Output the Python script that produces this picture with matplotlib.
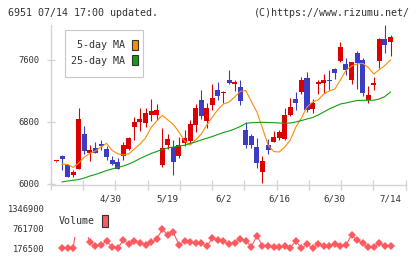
import numpy as np
import matplotlib
matplotlib.use("Agg")
import matplotlib.pyplot as plt
from matplotlib.patches import Patch, Rectangle

plt.rcParams['font.family'] = ['DejaVu Sans Mono']

# ---- data ----
open_ = [6295, 6357, 6245, 6110, 6197, 6645, 6400, 6465, 6516, 6452,
         6310, 6284, 6355, 6452, 6739, 6800, 6791, 6894, 6894, 6245,
         6503, 6477, 6361, 6529, 6555, 6761, 7084, 6813, 7019, 7213,
         7174, 7342, 7290, 7252, 6697, 6619, 6477, 6155, 6503, 6542,
         6594, 6581, 6890, 7097, 7187, 7368, 6968, 7290, 7303, 7342,
         7484, 7587, 7548, 7342, 7690, 7600, 7084, 7277, 7587, 7871,
         7832]
high = [6300, 6374, 6250, 6181, 6985, 6748, 6503, 6542, 6568, 6484,
        6361, 6329, 6548, 6606, 6868, 6981, 6984, 7097, 7028, 6723,
        6645, 6574, 6606, 6697, 6826, 7032, 7213, 7045, 7290, 7316,
        7200, 7471, 7348, 7342, 6800, 6645, 6594, 6361, 6581, 6684,
        6697, 6981, 7110, 7187, 7381, 7445, 7097, 7342, 7419, 7471,
        7497, 7832, 7626, 7574, 7716, 7626, 7264, 7381, 7884, 8052,
        7923]
low = [6290, 6181, 6090, 6090, 6190, 6387, 6297, 6394, 6439, 6310,
       6245, 6194, 6310, 6439, 6568, 6684, 6739, 6817, 6826, 6213,
       6452, 6116, 6335, 6490, 6516, 6671, 6839, 6723, 6955, 7084,
       7045, 7290, 7200, 7019, 6465, 6465, 6206, 6013, 6387, 6542,
       6568, 6568, 6871, 6961, 7161, 6929, 6916, 7161, 7174, 7213,
       7355, 7574, 7406, 7290, 7226, 7135, 7045, 7213, 7497, 7690,
       7652]
close = [6297, 6326, 6094, 6161, 6839, 6426, 6439, 6400, 6490, 6348,
         6258, 6194, 6503, 6594, 6804, 6839, 6920, 6946, 6955, 6465,
         6581, 6284, 6503, 6594, 6774, 6981, 6877, 6981, 7110, 7135,
         7187, 7303, 7316, 7077, 6503, 6503, 6271, 6297, 6439, 6606,
         6671, 6890, 6994, 7045, 7342, 6955, 7045, 7316, 7342, 7335,
         7432, 7768, 7471, 7574, 7561, 7174, 7148, 7303, 7871, 7794,
         7897]
ma5 = [np.nan, 6254, 6254, 6213, 6271, 6348, 6394, 6426, 6477, 6525,
       6432, 6390, 6374, 6390, 6452, 6516, 6594, 6729, 6813, 6886,
       6826, 6768, 6671, 6555, 6503, 6568, 6645, 6761, 6865, 6961,
       7032, 7058, 7123, 7194, 7206, 7065, 6929, 6723, 6503, 6419,
       6413, 6477, 6568, 6735, 6852, 6994, 7058, 7084, 7161, 7200,
       7226, 7342, 7465, 7523, 7548, 7557, 7503, 7419, 7477, 7529,
       7600]
ma25 = [np.nan, 6026, 6039, 6048, 6058, 6077, 6103, 6123, 6148, 6174,
        6194, 6213, 6232, 6258, 6290, 6329, 6361, 6394, 6419, 6445,
        6465, 6477, 6490, 6499, 6523, 6542, 6568, 6590, 6613, 6639,
        6665, 6684, 6710, 6742, 6781, 6791, 6794, 6796, 6794, 6791,
        6787, 6783, 6787, 6800, 6819, 6839, 6858, 6890, 6929, 6968,
        7000, 7032, 7045, 7062, 7077, 7080, 7080, 7081, 7097, 7129,
        7187]
volume = [np.nan, 180000, 176500, 178000, 1346900, 840000, 352000, 235000, 273000, 396000,
          200000, 180000, 413500, 311000, 381000, 331600, 273000, 352000, 440000, 735000,
          560000, 639000, 273000, 384000, 352000, 337000, 323000, 244000, 469000, 431000,
          390000, 308000, 340000, 449000, 390000, 223000, 545000, 244000, 253000, 223000,
          206000, 244000, 194000, 390000, 176500, 294000, 180000, 294000, 244000, 244000,
          294000, 253000, 273000, 566000, 419000, 323000, 206000, 223000, 323000, 253000,
          253000]
date_labels = ["4/30", "5/19", "6/2", "6/16", "6/30", "7/14"]
date_pos = [9.7, 20, 30, 40, 50, 60]
price_ticks = [6000, 6800, 7600]
vol_ticks = [176500, 761700, 1346900]

# ---- style ----
RED = "#dd0000"
BLUE = "#3c3cc4"
ORANGE = "#ff8c00"
GREEN = "#10a010"
VOLC = "#ff5a60"
GRAY = "#d4d4d4"
TXT = "#333333"
FS = 7.2

W, H = 420, 259
fig = plt.figure(figsize=(W / 100, H / 100), dpi=100)


def fxy(x, y):
    """pixel point (top-left origin) -> figure fraction"""
    return (x / W, 1 - y / H)


x0, x1 = 50.7, 405.7
ax = fig.add_axes([x0 / W, 1 - 184.5 / H, (x1 - x0) / W, (184.5 - 25) / H])
n = len(close)
xs = np.arange(n)
ax.set_xlim(-1.04, 62.73)
ax.set_ylim(5993.5, 8051.6)

o = np.array(open_, float); c = np.array(close, float)
hi = np.array(high, float); lo = np.array(low, float)
up = c >= o
cols = np.where(up, RED, BLUE)
bottoms = np.minimum(o, c)
heights = np.maximum(np.abs(c - o), 13)
ax.vlines(xs, lo, hi, colors=cols, linewidth=0.8, zorder=2)
ax.bar(xs, heights, bottom=bottoms, width=0.9, color=cols, linewidth=0, zorder=3)
ax.plot(xs, ma5, color=ORANGE, lw=0.8, zorder=4)
ax.plot(xs, ma25, color=GREEN, lw=0.8, zorder=4)

for s in ["top", "right"]:
    ax.spines[s].set_visible(False)
for s in ["left", "bottom"]:
    ax.spines[s].set_color(GRAY)
    ax.spines[s].set_linewidth(1.0)

ax.set_yticks(price_ticks)
ax.set_yticklabels([str(v) for v in price_ticks])
ax.tick_params(axis="y", direction="inout", length=6, width=1.0, color=GRAY,
               labelsize=6.3, labelcolor=TXT, pad=5.2)
ax.set_xticks(np.linspace(-1.04, 62.73, 12), minor=True)
ax.set_xticks(date_pos)
ax.set_xticklabels(date_labels)
ax.tick_params(axis="x", which="major", length=0, labelsize=6.6, labelcolor=TXT, pad=7.5)
ax.tick_params(axis="x", which="minor", direction="inout", length=7, width=1.0, color=GRAY)

# MA legend: frame drawn separately, entries placed without frame
frame = Rectangle(fxy(65, 77.3), 78 / W, 47.3 / H, transform=fig.transFigure,
                  facecolor="white", edgecolor="#c8c8c8", linewidth=0.8, zorder=5)
fig.add_artist(frame)
leg = fig.legend(handles=[Patch(facecolor=ORANGE, edgecolor="#333333", linewidth=0.8),
                          Patch(facecolor=GREEN, edgecolor="#333333", linewidth=0.8)],
                 labels=["5-day MA", "25-day MA"], markerfirst=False,
                 loc="upper right", bbox_to_anchor=fxy(138.2, 40),
                 borderaxespad=0, borderpad=0, frameon=False,
                 fontsize=FS, handlelength=0.6, handleheight=1.1, handletextpad=0.72,
                 labelspacing=0.53)
leg.set_zorder(6)
for t in leg.get_texts():
    t.set_color(TXT)

# volume panel
vtop, vbot = 205, 252
axv = fig.add_axes([x0 / W, 1 - vbot / H, (x1 - x0) / W, (vbot - vtop) / H])
axv.set_xlim(-1.04, 62.73)
k = (1346900 - 176500) / (248.3 - 208.3)
axv.set_ylim(176500 - (vbot - 248.3) * k, 1346900 + (208.3 - vtop) * k)
axv.plot(xs, volume, color=VOLC, lw=0.8, marker="D", ms=3.7, mew=0, mfc=VOLC,
         clip_on=False, zorder=2)
for s in axv.spines.values():
    s.set_visible(False)
axv.set_xticks([])
axv.set_yticks(vol_ticks)
axv.set_yticklabels([str(v) for v in vol_ticks])
axv.tick_params(axis="y", length=0, labelsize=6.3, labelcolor=TXT, pad=4.6)

vframe = Rectangle(fxy(52, 237), 64 / W, 34 / H, transform=fig.transFigure,
                   facecolor="white", edgecolor="none", zorder=5)
fig.add_artist(vframe)
lv = fig.legend(handles=[Patch(facecolor=VOLC, edgecolor="#333333", linewidth=0.8)],
                labels=["Volume"], markerfirst=False, loc="upper right",
                bbox_to_anchor=fxy(107.8, 215), borderaxespad=0, borderpad=0,
                frameon=False, fontsize=FS, handlelength=0.6, handleheight=1.5,
                handletextpad=0.7)
lv.set_zorder(6)
for t in lv.get_texts():
    t.set_color(TXT)

fig.text(8 / W, 1 - 13.3 / H, "6951 07/14 17:00 updated.", fontsize=FS, color=TXT,
         ha="left", va="center")
fig.text(409.5 / W, 1 - 13.3 / H, "(C)https://www.rizumu.net/", fontsize=FS, color=TXT,
         ha="right", va="center")

fig.savefig("out.png", dpi=100, facecolor="white")
